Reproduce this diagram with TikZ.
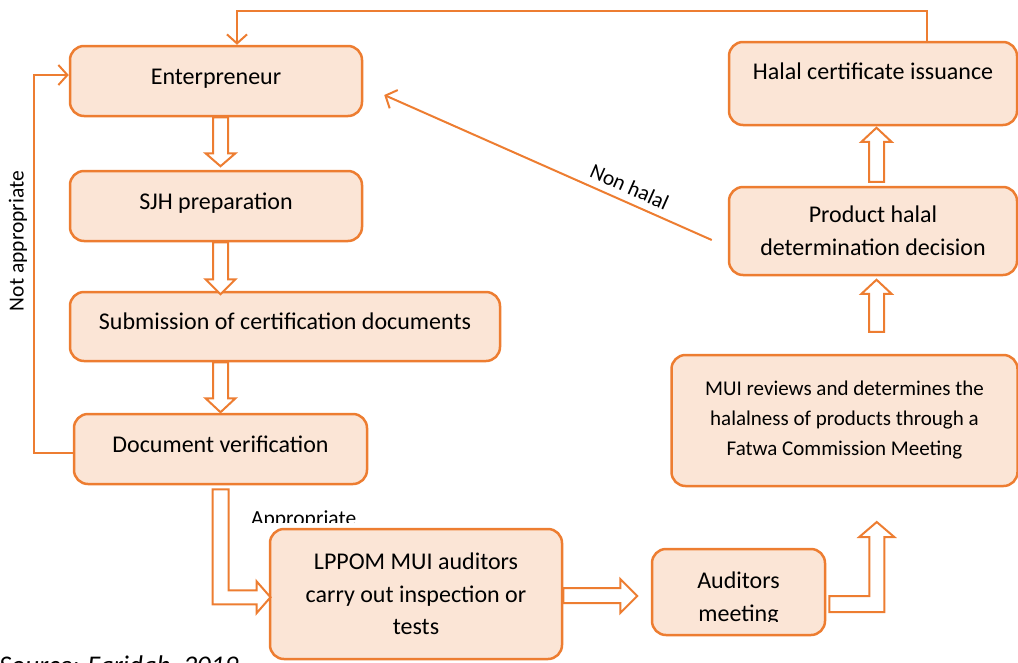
\documentclass[tikz,border=0pt]{standalone}
\usepackage{fontspec}
\setmainfont{Carlito}
\usetikzlibrary{arrows.meta,calc}
\definecolor{org}{HTML}{ED7D31}
\definecolor{boxfill}{HTML}{FBE5D6}
\newcommand\dnblk[3]{\draw[blk] #1 -- ++(15,0) -- ++(0,#2) -- ++(7.5,0) -- ++(-15,#3) -- ++(-15,-#3) -- ++(7.5,0) -- cycle;}
\newcommand\upblk[3]{\draw[blk] #1 -- ++(15,0) -- ++(0,-#2) -- ++(7.5,0) -- ++(-15,-#3) -- ++(-15,#3) -- ++(7.5,0) -- cycle;}
\begin{document}
\begin{tikzpicture}[x=1pt,y=-1pt,
  box/.style={draw=org, fill=boxfill, line width=2.5pt, rounded corners=14pt, align=center, inner sep=0pt, font=\fontsize{24}{33}\selectfont},
  one/.style={text height=17pt, text depth=11pt},
  blk/.style={draw=org, fill=white, line width=2pt, line join=miter},
  conn/.style={draw=org, line width=2pt},
  tip/.style={-{Straight Barb[length=9pt,width=20pt]}},
  lbl/.style={font=\fontsize{21.5}{25}\selectfont, inner sep=0pt}
]
\useasboundingbox (0,0) rectangle (1018,662);

% boxes
\node[box, one, minimum width=292pt, minimum height=70pt] (ent) at (216,81) {Enterpreneur};
\node[box, one, minimum width=292pt, minimum height=70pt] (sjh) at (216,206) {SJH preparation};
\node[box, one, minimum width=430pt, minimum height=69pt] (sub) at (285,326.5) {Submission of certification documents};
\node[box, one, minimum width=293pt, minimum height=70pt] (dv) at (220.5,449) {Document verification};
\node[box, minimum width=292pt, minimum height=130pt, font=\fontsize{24}{32.5}\selectfont] (lp) at (416,594) {LPPOM MUI auditors\\carry out inspection or\\tests};
\node[box, minimum width=173pt, minimum height=86pt] (au) at (738.5,592) {};
\begin{scope}
  \clip (650,540) rectangle (830,621);
  \node[font=\fontsize{24}{33}\selectfont, align=center, inner sep=0pt] (aut) at (au.center) [yshift=-7pt] {Auditors\\meeting};
\end{scope}
\node[box, minimum width=346pt, minimum height=131pt, font=\fontsize{21}{30}\selectfont] (mui) at (844.5,420.5) {MUI reviews and determines the\\halalness of products through a\\Fatwa Commission Meeting};
\node[box, minimum width=288pt, minimum height=88pt] (pd) at (873,231) {Product halal\\determination decision};
\node[box, minimum width=288pt, minimum height=83pt, text height=17pt, text depth=26pt] (hc) at (873,83.5) {Halal certificate issuance};

% block arrows
\dnblk{($(ent.south)+(-3,0)$)}{36}{13}
\dnblk{($(sjh.south)+(-3,0)$)}{37}{15}
\dnblk{($(sub.south -| ent.south)+(-3,0)$)}{36}{14}
\upblk{($(mui.north)+(24.5,-22)$)}{38}{14}
\upblk{($(pd.north)+(-4,-4)$)}{40}{14}
\draw[blk] ($(dv.south)+(-8,4)$) -- ++(16,0) -- ++(0,101) -- ++(28,0) -- ++(0,-9) -- ++(14,16) -- ++(-14,16) -- ++(0,-9) -- ++(-44,0) -- cycle;
\draw[blk] ($(lp.east)+(0,-6)$) -- ++(57,0) -- ++(0,-9) -- ++(17,17) -- ++(-17,17) -- ++(0,-10) -- ++(-57,0) -- cycle;
\draw[blk] ($(au.east)+(3,4)$) -- ++(40,0) -- ++(0,-59) -- ++(-10,0) -- ++(17.5,-15) -- ++(17.5,15) -- ++(-10,0) -- ++(0,75) -- ++(-55,0) -- cycle;

% thin connectors
\draw[conn, tip] ($(hc.north)+(54,0)$) -- ++(0,-30) -| ($(ent.north)+(21,0)$);
\draw[conn, tip] ($(dv.west)+(0,4)$) -- ++(-39,0) |- ($(ent.west)+(0,-6)$);
\draw[conn, tip] ($(pd.west)+(-16,9)$) -- node[lbl, pos=0.27, sloped, above=7pt] (nh) {Non halal} ($(ent.east)+(21,14)$);

% labels
\node[lbl, rotate=90] (na) at (18,241) {Not appropriate};
\begin{scope}
  \clip (240,490) rectangle (370,522);
  \node[lbl, anchor=base west] (ap) at (251,525) {Appropriate};
\end{scope}
\node[font=\fontsize{27}{30}\selectfont\itshape, anchor=base west, inner sep=0pt] (src) at (-1,674) {Source: Faridah, 2019};
\end{tikzpicture}
\end{document}
